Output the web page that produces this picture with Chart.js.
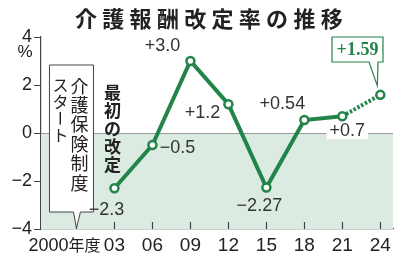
<!DOCTYPE html>
<html>
<head>
<meta charset="UTF-8">
<title>介護報酬改定率の推移</title>
<script src="https://cdn.jsdelivr.net/npm/chart.js"></script>
<style>
  html, body { margin: 0; padding: 0; background: #fff; }
  #wrap { position: relative; width: 400px; height: 262px; }
</style>
</head>
<body>
<div id="wrap"><canvas id="chart" width="400" height="262"></canvas></div>
<script>
  // データ
  var years = [2003, 2006, 2009, 2012, 2015, 2018, 2021, 2024];
  var rates = [-2.3, -0.5, 3.0, 1.2, -2.27, 0.54, 0.7, 1.59];
  var rateLabels = ["−2.3", "−0.5", "+3.0", "+1.2", "−2.27", "+0.54", "+0.7", "+1.59"];
  var xTicks = [2000, 2003, 2006, 2009, 2012, 2015, 2018, 2021, 2024];
  var xTickLabels = ["2000年度", "03", "06", "09", "12", "15", "18", "21", "24"];
  var yTicks = [-4, -2, 0, 2, 4];
  var yTickLabels = ["−4", "−2", "0", "2", "4"];

  var titleText = "介護報酬改定率の推移";
  var startNote = ["介護保険制度", "スタート"];
  var firstNote = "最初の改定";

  var green = "#23844a";
  var dark = "#333";
  var sans = "'Liberation Sans', Arial, sans-serif";
  var cjk = "'Noto Sans CJK JP', sans-serif";

  // 縦書き
  function drawVertical(ctx, text, x, y, pitch) {
    for (var i = 0; i < text.length; i++) {
      var ch = text[i];
      var cy = y + pitch * i + pitch / 2;
      if (ch === "ー") {
        ctx.save();
        ctx.translate(x, cy);
        ctx.rotate(Math.PI / 2);
        ctx.fillText(ch, 0, 0);
        ctx.restore();
      } else {
        ctx.fillText(ch, x, cy);
      }
    }
  }

  var decor = {
    id: "decor",
    beforeDatasetsDraw: function (chart) {
      var ctx = chart.ctx, xs = chart.scales.x, ys = chart.scales.y, a = chart.chartArea;
      var y0 = ys.getPixelForValue(0);
      ctx.save();
      // マイナス域の網掛け
      ctx.fillStyle = "#dcebe2";
      ctx.fillRect(a.left, y0, a.right - a.left, a.bottom - y0);
      // 0の線
      ctx.strokeStyle = "#9a9a9a";
      ctx.lineWidth = 1;
      ctx.beginPath();
      ctx.moveTo(a.left, y0 + 0.5);
      ctx.lineTo(a.right, y0 + 0.5);
      ctx.stroke();
      // x目盛り（内向き）
      ctx.strokeStyle = "#444";
      ctx.lineWidth = 1.2;
      xTicks.forEach(function (v) {
        var px = Math.round(xs.getPixelForValue(v)) + 0.5;
        ctx.beginPath();
        ctx.moveTo(px, a.bottom);
        ctx.lineTo(px, a.bottom - 7);
        ctx.stroke();
      });
      // 介護保険制度スタートの吹き出し
      var tx = xs.getPixelForValue(2000);
      var l = tx - 27, r = tx + 17, t = 65, b = 212;
      ctx.beginPath();
      ctx.moveTo(l, t);
      ctx.lineTo(r, t);
      ctx.lineTo(r, b);
      ctx.lineTo(tx + 4, b);
      ctx.lineTo(tx, a.bottom - 1);
      ctx.lineTo(tx - 3, b);
      ctx.lineTo(l, b);
      ctx.closePath();
      ctx.fillStyle = "#fff";
      ctx.fill();
      ctx.strokeStyle = "#444";
      ctx.lineWidth = 1;
      ctx.stroke();
      ctx.fillStyle = "#222";
      ctx.font = "18px " + cjk;
      ctx.textAlign = "center";
      ctx.textBaseline = "middle";
      drawVertical(ctx, startNote[0], tx + 3, 76, 19.4);
      ctx.font = "16px " + cjk;
      drawVertical(ctx, startNote[1], tx - 16, 77, 16.5);
      // 最初の改定
      ctx.font = "bold 17px " + cjk;
      drawVertical(ctx, firstNote, xs.getPixelForValue(2003) - 2, 84, 18);
      ctx.restore();
    },
    afterDatasetsDraw: function (chart) {
      var ctx = chart.ctx, xs = chart.scales.x, ys = chart.scales.y, a = chart.chartArea;
      ctx.save();
      ctx.textAlign = "center";
      ctx.textBaseline = "middle";
      // 数値ラベル
      var offs = [[-8, 22], [25, 3], [-28, -15], [-26, 9], [-7, 19], [-22, -16], [5, 15]];
      ctx.font = "18px " + sans;
      for (var i = 0; i < offs.length; i++) {
        var px = xs.getPixelForValue(years[i]) + offs[i][0];
        var py = ys.getPixelForValue(rates[i]) + offs[i][1];
        if (i === 6) {
          var w = ctx.measureText(rateLabels[i]).width;
          ctx.fillStyle = "#fff";
          ctx.fillRect(px - w / 2 - 3, py - 8, w + 6, 16);
        }
        ctx.fillStyle = dark;
        ctx.fillText(rateLabels[i], px, py);
      }
      // +1.59 の吹き出し
      var lx = xs.getPixelForValue(years[7]);
      var ly = ys.getPixelForValue(rates[7]);
      var l = 332, r = 383, t = 37, b = 62;
      ctx.beginPath();
      ctx.moveTo(l, t);
      ctx.lineTo(r, t);
      ctx.lineTo(r, b);
      ctx.lineTo(r - 5, b);
      ctx.lineTo(lx - 3, ly - 9);
      ctx.lineTo(r - 14, b);
      ctx.lineTo(l, b);
      ctx.closePath();
      ctx.fillStyle = "#fff";
      ctx.fill();
      ctx.strokeStyle = green;
      ctx.lineWidth = 1.2;
      ctx.stroke();
      ctx.fillStyle = green;
      ctx.font = "bold 18px 'Liberation Serif', serif";
      ctx.fillText(rateLabels[7], (l + r) / 2, (t + b) / 2 + 1);
      // x目盛りラベル
      ctx.fillStyle = "#222";
      xTicks.forEach(function (v, k) {
        var px = xs.getPixelForValue(v);
        if (k === 0) {
          ctx.font = "18px " + sans;
          ctx.textAlign = "right";
          ctx.fillText("2000", px - 8, 246);
          ctx.font = "16px " + cjk;
          ctx.textAlign = "left";
          ctx.fillText("年度", px - 8, 245);
          ctx.textAlign = "center";
        } else {
          ctx.font = "19px " + sans;
          ctx.fillText(xTickLabels[k], px, 246);
        }
      });
      // %
      ctx.font = "17px " + sans;
      ctx.fillText("%", 25, 52);
      // タイトル
      ctx.fillStyle = "#222";
      ctx.font = "bold 22px " + cjk;
      for (var c = 0; c < titleText.length; c++) {
        ctx.fillText(titleText[c], 86 + c * 27.3, 19);
      }
      ctx.restore();
    }
  };

  new Chart(document.getElementById("chart"), {
    type: "line",
    data: {
      datasets: [{
        data: years.map(function (y, i) { return { x: y, y: rates[i] }; }),
        borderColor: green,
        borderWidth: 4,
        pointRadius: 4,
        pointBorderWidth: 2.5,
        pointBackgroundColor: "#fff",
        pointBorderColor: green,
        tension: 0,
        clip: false,
        segment: {
          borderDash: function (c) { return c.p0DataIndex === 6 ? [2.5, 1.8] : undefined; }
        }
      }]
    },
    options: {
      responsive: false,
      animation: false,
      devicePixelRatio: 1,
      layout: { padding: { top: 37, right: 7, left: 0, bottom: 0 } },
      plugins: { legend: { display: false }, tooltip: { enabled: false }, title: { display: false } },
      scales: {
        x: {
          type: "linear",
          min: 1997.2,
          max: 2025,
          afterBuildTicks: function (s) { s.ticks = xTicks.map(function (v) { return { value: v }; }); },
          ticks: { display: false },
          grid: { display: false },
          border: { display: true, color: "#444", width: 1.2 },
          afterFit: function (s) { s.height = 33; }
        },
        y: {
          min: -4,
          max: 4,
          afterBuildTicks: function (s) { s.ticks = yTicks.map(function (v) { return { value: v }; }); },
          ticks: {
            callback: function (v) { return yTickLabels[yTicks.indexOf(v)]; },
            font: { family: sans, size: 18 },
            color: "#222",
            padding: 2
          },
          grid: { drawOnChartArea: false, drawTicks: true, tickLength: 7, color: "#444" },
          border: { color: "#444", width: 1.2 },
          afterFit: function (s) { s.width = 41; }
        }
      }
    },
    plugins: [decor]
  });
</script>
</body>
</html>
